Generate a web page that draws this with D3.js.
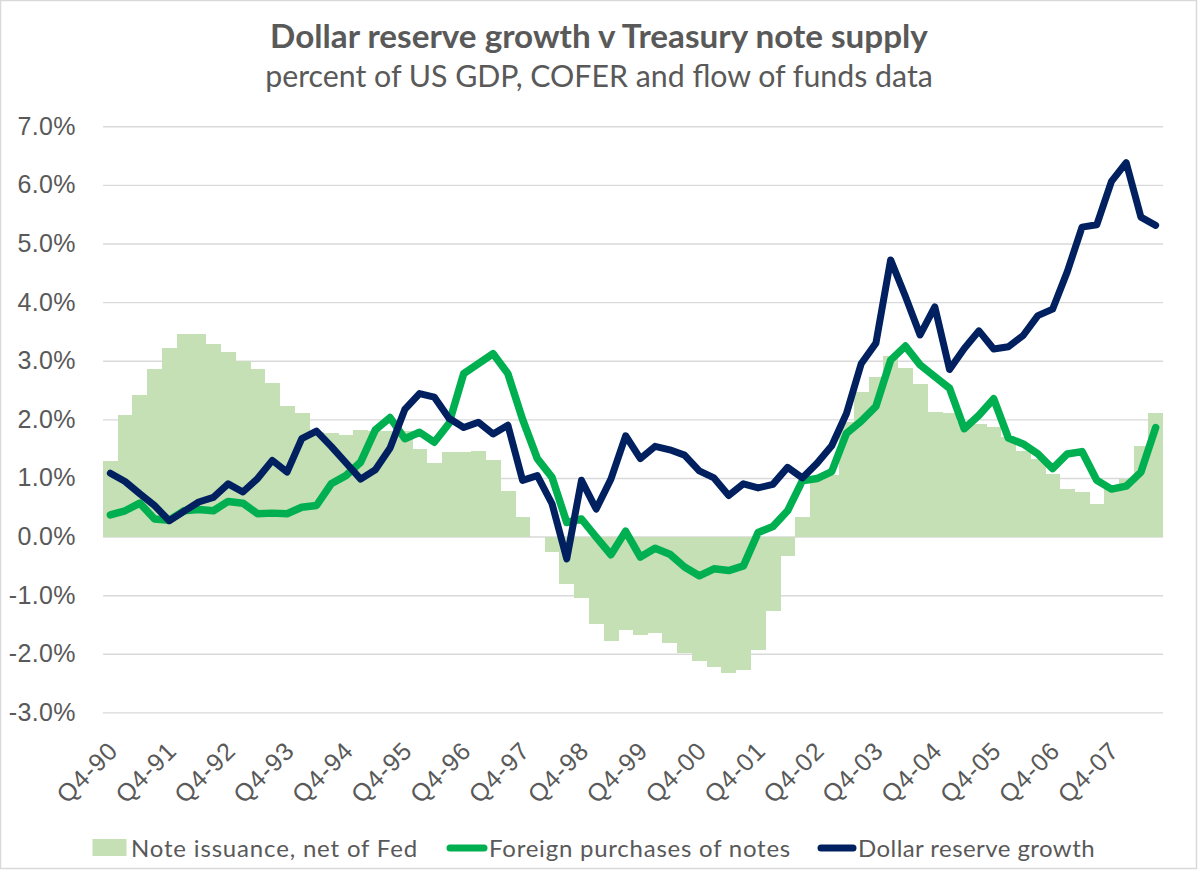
<!DOCTYPE html>
<html>
<head>
<meta charset="utf-8">
<script src="https://cdn.jsdelivr.net/npm/d3@7"></script>
<style>
  body { margin: 0; background: #fff; }
  svg { display: block; font-family: Lato, "Liberation Sans", Arial, sans-serif; }
</style>
</head>
<body>
<script>
const width = 1200;
const height = 871;
const textColor = "#595959";

// quarters on the category axis
const quarters = [
  "Q4-90",
  "Q1-91", "Q2-91", "Q3-91", "Q4-91",
  "Q1-92", "Q2-92", "Q3-92", "Q4-92",
  "Q1-93", "Q2-93", "Q3-93", "Q4-93",
  "Q1-94", "Q2-94", "Q3-94", "Q4-94",
  "Q1-95", "Q2-95", "Q3-95", "Q4-95",
  "Q1-96", "Q2-96", "Q3-96", "Q4-96",
  "Q1-97", "Q2-97", "Q3-97", "Q4-97",
  "Q1-98", "Q2-98", "Q3-98", "Q4-98",
  "Q1-99", "Q2-99", "Q3-99", "Q4-99",
  "Q1-00", "Q2-00", "Q3-00", "Q4-00",
  "Q1-01", "Q2-01", "Q3-01", "Q4-01",
  "Q1-02", "Q2-02", "Q3-02", "Q4-02",
  "Q1-03", "Q2-03", "Q3-03", "Q4-03",
  "Q1-04", "Q2-04", "Q3-04", "Q4-04",
  "Q1-05", "Q2-05", "Q3-05", "Q4-05",
  "Q1-06", "Q2-06", "Q3-06", "Q4-06",
  "Q1-07", "Q2-07", "Q3-07", "Q4-07",
  "Q1-08", "Q2-08", "Q3-08",
];

// Note issuance, net of Fed (% of GDP)
const noteIssuance = [
  1.29, 2.08, 2.41, 2.86, 3.22, 3.45, 3.45, 3.29, 3.15, 3.0,
  2.86, 2.62, 2.23, 2.11, 1.78, 1.76, 1.74, 1.82, 1.8, 1.8,
  1.8, 1.49, 1.25, 1.45, 1.45, 1.46, 1.3, 0.77, 0.34, 0.0,
  -0.27, -0.81, -1.05, -1.49, -1.79, -1.59, -1.68, -1.64, -1.82, -1.99,
  -2.13, -2.23, -2.32, -2.27, -1.94, -1.27, -0.33, 0.33, 0.97, 1.05,
  1.95, 2.47, 2.73, 3.08, 2.88, 2.61, 2.13, 2.1, 1.95, 1.92,
  1.87, 1.7, 1.46, 1.32, 1.07, 0.81, 0.76, 0.55, 0.82, 0.98,
  1.54, 2.11,
];

// Foreign purchases of notes
const foreignPurchases = [
  0.37, 0.44, 0.57, 0.3, 0.28, 0.44, 0.46, 0.44, 0.6, 0.57,
  0.39, 0.4, 0.39, 0.5, 0.53, 0.9, 1.04, 1.27, 1.82, 2.03,
  1.67, 1.78, 1.61, 1.93, 2.78, 2.95, 3.12, 2.78, 2.0, 1.33,
  1.01, 0.24, 0.3, -0.01, -0.31, 0.09, -0.35, -0.2, -0.3, -0.52,
  -0.67, -0.55, -0.58, -0.5, 0.07, 0.17, 0.44, 0.95, 0.99, 1.11,
  1.76, 1.97, 2.22, 3.01, 3.25, 2.93, 2.73, 2.53, 1.84, 2.07,
  2.35, 1.68, 1.58, 1.41, 1.16, 1.41, 1.45, 0.96, 0.81, 0.86,
  1.1, 1.86,
];

// Dollar reserve growth
const reserveGrowth = [
  1.08, 0.94, 0.73, 0.53, 0.27, 0.43, 0.59, 0.67, 0.9, 0.76,
  0.99, 1.3, 1.1, 1.67, 1.8, 1.54, 1.26, 0.98, 1.14, 1.51,
  2.17, 2.44, 2.38, 2.02, 1.86, 1.95, 1.75, 1.9, 0.96, 1.04,
  0.56, -0.38, 0.96, 0.47, 0.98, 1.72, 1.33, 1.54, 1.48, 1.39,
  1.12, 1.0, 0.7, 0.9, 0.83, 0.89, 1.18, 1.0, 1.25, 1.55,
  2.1, 2.95, 3.3, 4.72, 4.1, 3.44, 3.92, 2.85, 3.21, 3.51,
  3.2, 3.24, 3.43, 3.77, 3.88, 4.52, 5.28, 5.32, 6.06, 6.38,
  5.45, 5.31,
];

const yTicks = [-3, -2, -1, 0, 1, 2, 3, 4, 5, 6, 7];

const legendItems = [
  { label: "Note issuance, net of Fed", type: "bar", color: "#c5e0b4" },
  { label: "Foreign purchases of notes", type: "line", color: "#00b050" },
  { label: "Dollar reserve growth", type: "line", color: "#002060" },
];

const plot = { left: 103, right: 1163, top: 126.3, bottom: 712.4 };

const svg = d3
  .select("body")
  .append("svg")
  .attr("width", width)
  .attr("height", height);

svg
  .append("rect")
  .attr("x", 0.5)
  .attr("y", 0.5)
  .attr("width", width - 4)
  .attr("height", height - 3)
  .attr("fill", "#fff")
  .attr("stroke", "#d9d9d9")
  .attr("stroke-width", 1.5);

const xScale = d3
  .scaleBand()
  .domain(quarters)
  .range([plot.left, plot.right])
  .padding(0);

const yScale = d3
  .scaleLinear()
  .domain([d3.min(yTicks), d3.max(yTicks)])
  .range([plot.bottom, plot.top]);

const xMid = (q) => xScale(q) + xScale.bandwidth() / 2;

// stretch a label to the width it has in the original (Calibri is wider)
const spaceTo = (sel, target) => {
  sel.each(function () {
    const w = this.getComputedTextLength();
    const n = this.textContent.length;
    d3.select(this).attr("letter-spacing", (target - w) / n);
  });
};

// gridlines
svg
  .append("g")
  .attr("transform", `translate(${plot.left},0)`)
  .call(
    d3.axisLeft(yScale)
      .tickValues(yTicks)
      .tickSize(-(plot.right - plot.left))
      .tickFormat("")
  )
  .call((g) => g.select(".domain").remove())
  .call((g) => g.selectAll("line").attr("stroke", "#d9d9d9").attr("stroke-width", 1.4));

// y labels
svg
  .append("g")
  .attr("transform", "translate(76,0)")
  .call(
    d3.axisLeft(yScale)
      .tickValues(yTicks)
      .tickSize(0)
      .tickPadding(0)
      .tickFormat((d) => d.toFixed(1) + "%")
  )
  .call((g) => g.select(".domain").remove())
  .call((g) =>
    g.selectAll("text")
      .attr("fill", textColor)
      .attr("font-size", 25)
      .attr("font-family", null)
      .attr("letter-spacing", 0.4)
  );

// bars
svg
  .append("g")
  .selectAll("rect")
  .data(noteIssuance)
  .enter()
  .append("rect")
  .attr("x", (d, i) => xScale(quarters[i]))
  .attr("width", xScale.bandwidth() + 0.4)
  .attr("y", (d) => yScale(Math.max(0, d)))
  .attr("height", (d) => Math.abs(yScale(d) - yScale(0)))
  .attr("fill", "#c5e0b4")
  .attr("shape-rendering", "crispEdges");

const line = d3
  .line()
  .x((d, i) => xMid(quarters[i]))
  .y((d) => yScale(d));

svg
  .append("path")
  .datum(foreignPurchases)
  .attr("d", line)
  .attr("fill", "none")
  .attr("stroke", "#00b050")
  .attr("stroke-width", 7.5)
  .attr("stroke-linejoin", "round")
  .attr("stroke-linecap", "round");

svg
  .append("path")
  .datum(reserveGrowth)
  .attr("d", line)
  .attr("fill", "none")
  .attr("stroke", "#002060")
  .attr("stroke-width", 7)
  .attr("stroke-linejoin", "round")
  .attr("stroke-linecap", "round");

// x labels, every fourth quarter, rotated
const xAxis = d3
  .axisBottom(xScale)
  .tickValues(quarters.filter((q) => q.startsWith("Q4")))
  .tickSize(0)
  .tickPadding(0);

svg
  .append("g")
  .attr("transform", `translate(0,${plot.bottom})`)
  .call(xAxis)
  .call((g) => g.select(".domain").remove())
  .call((g) =>
    g.selectAll("text")
      .attr("fill", textColor)
      .attr("font-size", 25)
      .attr("font-family", null)
      .attr("letter-spacing", 0.9)
      .attr("text-anchor", "end")
      .attr("dy", null)
      .attr("y", 0)
      .attr("transform", "translate(9,40) rotate(-45)")
  );

// title
const fitWidth = (sel, target) => {
  const w = sel.node().getComputedTextLength();
  sel.attr("font-size", (+sel.attr("font-size") * target) / w);
};

svg
  .append("text")
  .attr("x", 599)
  .attr("y", 48)
  .attr("text-anchor", "middle")
  .attr("font-weight", "bold")
  .attr("font-size", 28)
  .attr("fill", textColor)
  .text("Dollar reserve growth v Treasury note supply")
  .call(fitWidth, 658);

svg
  .append("text")
  .attr("x", 599)
  .attr("y", 87)
  .attr("text-anchor", "middle")
  .attr("font-size", 28)
  .attr("fill", textColor)
  .text("percent of US GDP, COFER and flow of funds data")
  .call(fitWidth, 668);

// legend
const legendPos = [
  { sx: 92.5, sw: 34, tx: 131, tw: 287 },
  { sx: 447, sw: 40, tx: 489, tw: 302 },
  { sx: 818, sw: 38, tx: 858, tw: 237 },
];
const legendY = 848;
const legend = svg.append("g");

legendItems.forEach((item, i) => {
  const p = legendPos[i];
  if (item.type === "bar") {
    legend
      .append("rect")
      .attr("x", p.sx)
      .attr("y", legendY - 9)
      .attr("width", p.sw)
      .attr("height", 17)
      .attr("fill", item.color);
  } else {
    legend
      .append("line")
      .attr("x1", p.sx + 3)
      .attr("x2", p.sx + p.sw - 3)
      .attr("y1", legendY)
      .attr("y2", legendY)
      .attr("stroke", item.color)
      .attr("stroke-width", 7)
      .attr("stroke-linecap", "round");
  }
  legend
    .append("text")
    .attr("x", p.tx)
    .attr("y", legendY + 8.5)
    .attr("font-size", 24)
    .attr("fill", textColor)
    .text(item.label)
    .call(spaceTo, p.tw);
});
</script>
</body>
</html>
